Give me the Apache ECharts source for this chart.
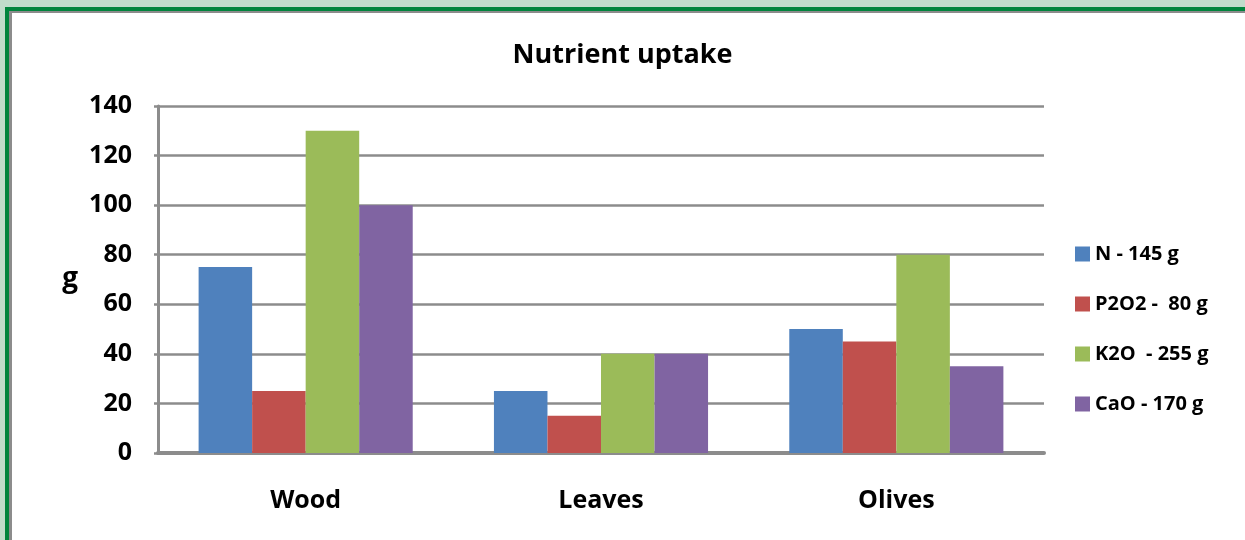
<!DOCTYPE html>
<html>
<head>
<meta charset="utf-8">
<script src="https://cdn.jsdelivr.net/npm/echarts@6/dist/echarts.min.js"></script>
<style>
	html, body { margin: 0; padding: 0; width: 1245px; height: 540px; overflow: hidden; background: #c0dccb; }
	#frame { position: absolute; left: 5px; top: 7px; right: 0; bottom: 0; border-top: 4px solid #00843d; border-left: 4px solid #00843d; background: #fff; }
	#frame2 { position: absolute; left: 0; top: 0; right: 0; bottom: 0; border-top: 2px solid #8c8c8c; border-left: 3px solid #8c8c8c; }
	#chart { position: absolute; left: 0; top: 0; width: 1245px; height: 540px; }
</style>
</head>
<body>
<div id="frame"><div id="frame2"></div></div>
<div id="chart"></div>
<script>
var categories = [ 'Wood', 'Leaves', 'Olives' ];
var seriesNames = [ 'N - 145 g', 'P2O2 -  80 g', 'K2O  - 255 g', 'CaO - 170 g' ];
var nData = [ 75, 25, 50 ];
var pData = [ 25, 15, 45 ];
var kData = [ 130, 40, 80 ];
var caData = [ 100, 40, 35 ];
var colors = [ '#4f81bd', '#c0504d', '#9bbb59', '#8064a2' ];

var font = '"Open Sans", Lato, sans-serif';
var gray = '#8c8c8c';

var chart = echarts.init(document.getElementById('chart'));

function bar(name, data) {
	return {
		name : name,
		type : 'bar',
		barGap : 0,
		barCategoryGap : '27.5%',
		data : data
	};
}

var option = {
	color : colors,
	animation : false,
	title : {
		text : 'Nutrient uptake',
		left : 'center',
		top : 37,
		textStyle : {
			fontFamily : font,
			fontSize : 27,
			fontWeight : 'bold',
			color : '#000'
		}
	},
	legend : {
		orient : 'vertical',
		left : 1070,
		top : 238,
		itemWidth : 15,
		itemHeight : 15,
		itemGap : 28,
		itemTextGap : 6,
		icon : 'rect',
		textStyle : {
			fontFamily : font,
			fontSize : 20,
			fontWeight : 'bold',
			color : '#000',
			lineHeight : 22
		},
		data : seriesNames
	},
	grid : {
		left : 158,
		right : 201,
		top : 106,
		bottom : 87
	},
	xAxis : {
		type : 'category',
		data : categories,
		axisLine : { lineStyle : { color : gray, width : 4 } },
		axisTick : { show : false },
		axisLabel : {
			margin : 35,
			fontFamily : font,
			fontSize : 25,
			fontWeight : 'bold',
			color : '#000'
		}
	},
	yAxis : {
		type : 'value',
		min : 0,
		max : 140,
		interval : 20,
		name : 'g',
		nameLocation : 'middle',
		nameRotate : 0,
		nameGap : 80,
		nameTextStyle : {
			fontFamily : font,
			fontSize : 28,
			fontWeight : 'bold',
			color : '#000'
		},
		axisLine : { show : true, lineStyle : { color : gray, width : 3 } },
		axisTick : { show : true, length : 4, lineStyle : { color : gray, width : 2.5 } },
		splitLine : { lineStyle : { color : gray, width : 2.5 } },
		axisLabel : {
			margin : 26,
			fontFamily : font,
			fontSize : 25,
			fontWeight : 'bold',
			color : '#000'
		}
	},
	series : [
		bar(seriesNames[0], nData),
		bar(seriesNames[1], pData),
		bar(seriesNames[2], kData),
		bar(seriesNames[3], caData)
	]
};
chart.setOption(option);
</script>
</body>
</html>
